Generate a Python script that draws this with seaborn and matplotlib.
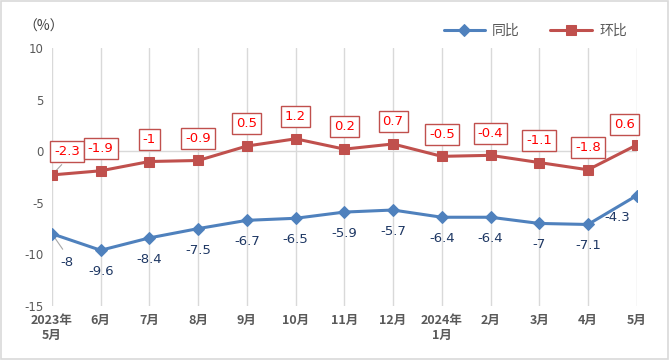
import numpy as np
import pandas as pd
import seaborn as sns
import matplotlib.pyplot as plt

months = ['2023年\n5月', '6月', '7月', '8月', '9月', '10月', '11月', '12月',
          '2024年\n1月', '2月', '3月', '4月', '5月']
yoy = [-8, -9.6, -8.4, -7.5, -6.7, -6.5, -5.9, -5.7, -6.4, -6.4, -7, -7.1, -4.3]
mom = [-2.3, -1.9, -1, -0.9, 0.5, 1.2, 0.2, 0.7, -0.5, -0.4, -1.1, -1.8, 0.6]
yticks = [10, 5, 0, -5, -10, -15]

sns.set_style('white')
plt.rcParams['font.family'] = ['Noto Sans CJK SC', 'DejaVu Sans']
plt.rcParams['axes.unicode_minus'] = False

blue = '#4F81BD'
red = '#C0504D'

df = pd.DataFrame({'idx': np.arange(len(months)), '同比': yoy, '环比': mom})

fig = plt.figure(figsize=(6.69, 3.6), dpi=100)
ax = fig.add_axes([0.0777, 0.15, 0.874, 0.7167])

for x in range(len(months)):
    ax.axvline(x, color='#D9D9D9', lw=1, zorder=0)
ax.axhline(0, color='#D9D9D9', lw=1, zorder=0)

sns.lineplot(data=df, x='idx', y='同比', ax=ax, color=blue, lw=2.2,
             marker='D', markersize=6.5, markeredgecolor=blue, label='同比')
sns.lineplot(data=df, x='idx', y='环比', ax=ax, color=red, lw=2.2,
             marker='s', markersize=7, markeredgecolor=red, label='环比')

# value labels
for i, v in enumerate(yoy):
    dx, dy = 0, -15.5
    if i == 0:
        dx, dy = 11, -21
        ax.plot([i, i + 0.22], [v, v - 1.5], color='#A6A6A6', lw=0.8, zorder=1)
    if i == len(yoy) - 1:
        dx = -14
    ax.annotate(str(v), (i, v), xytext=(dx, dy), textcoords='offset points',
                ha='center', va='center', fontsize=9.5, color='#1F3864',
                family=['DejaVu Sans'])
for i, v in enumerate(mom):
    dx, dy = 0, 16
    if i == 0:
        dx, dy = 11, 17
        ax.plot([i, i + 0.2], [v, v + 1.0], color='#A6A6A6', lw=0.8, zorder=1)
    if i == len(mom) - 1:
        dx = -9
        dy = 15
    ax.annotate(str(v), (i, v), xytext=(dx, dy), textcoords='offset points',
                ha='center', va='center', fontsize=9.5, color='#FF0000',
                family=['DejaVu Sans'],
                bbox=dict(boxstyle='square,pad=0.3', fc='white', ec=red, lw=1))

ax.set_xlim(0, len(months) - 1)
ax.set_ylim(-15, 10)
ax.set_yticks(yticks)
ax.set_yticklabels([str(t) for t in yticks], fontsize=8.5, color='#595959',
                   family=['DejaVu Sans'])
ax.set_xticks(range(len(months)))
ax.set_xticklabels(months, fontsize=9, color='#595959', fontweight='bold',
                   linespacing=1.15)
ax.tick_params(axis='both', length=0)
ax.tick_params(axis='x', pad=6)
ax.tick_params(axis='y', pad=6)
ax.set_xlabel('')
ax.set_ylabel('')
for s in ax.spines.values():
    s.set_visible(False)

fig.text(0.035, 0.925, '（%）', fontsize=10, color='#404040', ha='left', va='center')

ax.legend(loc='center', bbox_to_anchor=(0.8, 0.915), bbox_transform=fig.transFigure,
          ncol=2, frameon=False, fontsize=10, handlelength=3.0, handletextpad=0.5,
          columnspacing=2.2, labelcolor='#595959')

fig.patches.append(plt.Rectangle((0.002, 0.003), 0.996, 0.994, transform=fig.transFigure,
                                 fill=False, ec='#D9D9D9', lw=1.2))

fig.savefig('out.png', dpi=100)
